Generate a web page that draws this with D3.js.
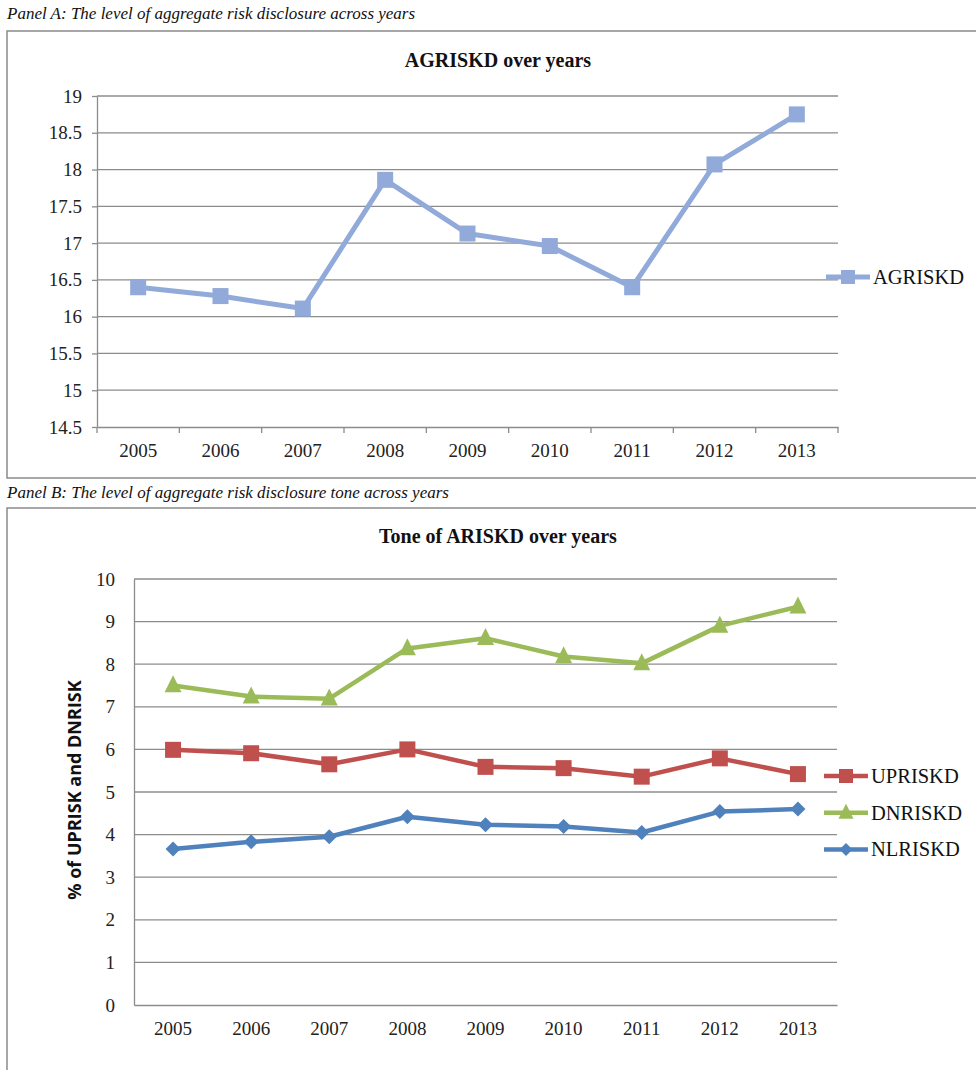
<!DOCTYPE html>
<meta charset="utf-8">
<style>
    body { margin: 0; background: #fff; }
    .frame { fill: none; stroke: #8a8a8a; stroke-width: 1.5; }
    .grid line { stroke: #8c8c8c; stroke-width: 1.3; }
    .axis path, .axis line { stroke: #8c8c8c; stroke-width: 1.3; }
    .axis text { font-family: "Liberation Serif", serif; font-size: 19px; fill: #222; }
    .panel-label { font-family: "Liberation Serif", serif; font-style: italic; font-size: 17px; fill: #111; }
    .title { font-family: "Liberation Serif", serif; font-weight: bold; font-size: 20px; fill: #111; }
    .legend text { font-family: "Liberation Serif", serif; font-size: 20.5px; fill: #111; }
</style>
<body></body>
<script src="https://d3js.org/d3.v7.min.js"></script>
<script>
    // categories
    var years = ["2005", "2006", "2007", "2008", "2009", "2010", "2011", "2012", "2013"];

    // Panel A
    var agriskd = [16.40, 16.28, 16.11, 17.86, 17.13, 16.96, 16.40, 18.07, 18.75];
    var ticksA = [14.5, 15, 15.5, 16, 16.5, 17, 17.5, 18, 18.5, 19];

    // Panel B
    var upriskd = [5.99, 5.91, 5.65, 6.00, 5.59, 5.56, 5.36, 5.79, 5.42];
    var dnriskd = [7.50, 7.24, 7.19, 8.37, 8.61, 8.18, 8.02, 8.90, 9.35];
    var nlriskd = [3.66, 3.83, 3.95, 4.42, 4.23, 4.19, 4.05, 4.54, 4.60];
    var ticksB = [0, 1, 2, 3, 4, 5, 6, 7, 8, 9, 10];

    var svg = d3.select("body").append("svg")
        .attr("width", 976)
        .attr("height", 1070);

    function marker(g, shape, color, x, y, s) {
        if (shape == "square") {
            g.append("rect").attr("x", x - s / 2).attr("y", y - s / 2)
                .attr("width", s).attr("height", s).attr("fill", color);
        } else if (shape == "triangle") {
            g.append("path")
                .attr("d", "M" + x + "," + (y - s * 0.6) + "L" + (x + s / 2) + "," + (y + s * 0.4) + "L" + (x - s / 2) + "," + (y + s * 0.4) + "Z")
                .attr("fill", color);
        } else {
            g.append("path")
                .attr("d", "M" + x + "," + (y - s / 2) + "L" + (x + s / 2) + "," + y + "L" + x + "," + (y + s / 2) + "L" + (x - s / 2) + "," + y + "Z")
                .attr("fill", color);
        }
    }

    // ---------- Panel A ----------
    svg.append("text").attr("class", "panel-label").attr("x", 7).attr("y", 19)
        .text("Panel A: The level of aggregate risk disclosure across years");
    svg.append("rect").attr("class", "frame").attr("x", 7).attr("y", 31).attr("width", 980).attr("height", 447);
    svg.append("text").attr("class", "title").attr("x", 498).attr("y", 67).attr("text-anchor", "middle")
        .text("AGRISKD over years");

    var xA = d3.scaleBand().domain(years).range([97, 838]);
    var yA = d3.scaleLinear().domain([14.5, 19]).range([427, 96]);

    svg.append("g").attr("class", "grid")
        .selectAll("line").data(ticksA.slice(1)).enter().append("line")
        .attr("x1", 97).attr("x2", 838)
        .attr("y1", d => yA(d)).attr("y2", d => yA(d));

    svg.append("g").attr("class", "axis").attr("transform", "translate(97,0)")
        .call(d3.axisLeft(yA).tickValues(ticksA).tickSize(5).tickSizeOuter(0).tickPadding(10).tickFormat(d3.format("")));

    var xAx = svg.append("g").attr("class", "axis").attr("transform", "translate(0,427)")
        .call(d3.axisBottom(xA).tickSize(0).tickPadding(17));
    // boundary tick marks between categories
    xAx.selectAll(".bt").data(d3.range(years.length + 1)).enter().append("line")
        .attr("class", "bt")
        .attr("x1", i => 97 + i * xA.bandwidth()).attr("x2", i => 97 + i * xA.bandwidth())
        .attr("y1", 0).attr("y2", 6);

    var lineA = d3.line()
        .x((d, i) => xA(years[i]) + xA.bandwidth() / 2)
        .y(d => yA(d));
    var gA = svg.append("g");
    gA.append("path").datum(agriskd).attr("d", lineA)
        .attr("fill", "none").attr("stroke", "#91AADA").attr("stroke-width", 5).attr("stroke-linejoin", "round");
    agriskd.forEach(function (v, i) {
        marker(gA, "square", "#91AADA", xA(years[i]) + xA.bandwidth() / 2, yA(v), 16);
    });

    var legA = svg.append("g").attr("class", "legend");
    legA.append("line").attr("x1", 826).attr("x2", 870).attr("y1", 277).attr("y2", 277)
        .attr("stroke", "#91AADA").attr("stroke-width", 5);
    marker(legA, "square", "#91AADA", 848, 277, 14);
    legA.append("text").attr("x", 873).attr("y", 284).text("AGRISKD");

    // ---------- Panel B ----------
    svg.append("text").attr("class", "panel-label").attr("x", 7).attr("y", 498)
        .text("Panel B: The level of aggregate risk disclosure tone across years");
    svg.append("rect").attr("class", "frame").attr("x", 7).attr("y", 508).attr("width", 980).attr("height", 600);
    svg.append("text").attr("class", "title").attr("x", 498).attr("y", 543).attr("text-anchor", "middle")
        .text("Tone of ARISKD over years");

    var xB = d3.scaleBand().domain(years).range([134, 837]);
    var yB = d3.scaleLinear().domain([0, 10]).range([1005, 579]);

    svg.append("g").attr("class", "grid")
        .selectAll("line").data(ticksB.slice(1)).enter().append("line")
        .attr("x1", 134).attr("x2", 837)
        .attr("y1", d => yB(d)).attr("y2", d => yB(d));

    svg.append("g").attr("class", "axis").attr("transform", "translate(134,0)")
        .call(d3.axisLeft(yB).tickValues(ticksB).tickSize(0).tickPadding(19));
    svg.append("g").attr("class", "axis").attr("transform", "translate(0,1005)")
        .call(d3.axisBottom(xB).tickSize(0).tickPadding(17));

    svg.append("text")
        .attr("transform", "translate(81,790) rotate(-90)")
        .attr("text-anchor", "middle")
        .style("font-family", "'Open Sans', sans-serif")
        .style("font-weight", "bold")
        .style("font-size", "18px")
        .attr("fill", "#111")
        .text("% of UPRISK and DNRISK");

    var seriesB = [
        { name: "UPRISKD", values: upriskd, color: "#C0504D", shape: "square", size: 16 },
        { name: "DNRISKD", values: dnriskd, color: "#9BBB59", shape: "triangle", size: 17 },
        { name: "NLRISKD", values: nlriskd, color: "#4F81BD", shape: "diamond", size: 15 }
    ];
    var lineB = d3.line()
        .x((d, i) => xB(years[i]) + xB.bandwidth() / 2)
        .y(d => yB(d));

    // draw NL first, then DN, then UP on top
    seriesB.slice().reverse().forEach(function (s) {
        var g = svg.append("g");
        g.append("path").datum(s.values).attr("d", lineB)
            .attr("fill", "none").attr("stroke", s.color).attr("stroke-width", 4.5).attr("stroke-linejoin", "round");
        s.values.forEach(function (v, i) {
            marker(g, s.shape, s.color, xB(years[i]) + xB.bandwidth() / 2, yB(v), s.size);
        });
    });

    var legB = svg.append("g").attr("class", "legend");
    seriesB.forEach(function (s, i) {
        var ly = 776 + i * 36.7;
        legB.append("line").attr("x1", 824).attr("x2", 868).attr("y1", ly).attr("y2", ly)
            .attr("stroke", s.color).attr("stroke-width", 4.5);
        marker(legB, s.shape, s.color, 846, ly, s.size - 2);
        legB.append("text").attr("x", 871).attr("y", ly + 7).text(s.name);
    });
</script>
